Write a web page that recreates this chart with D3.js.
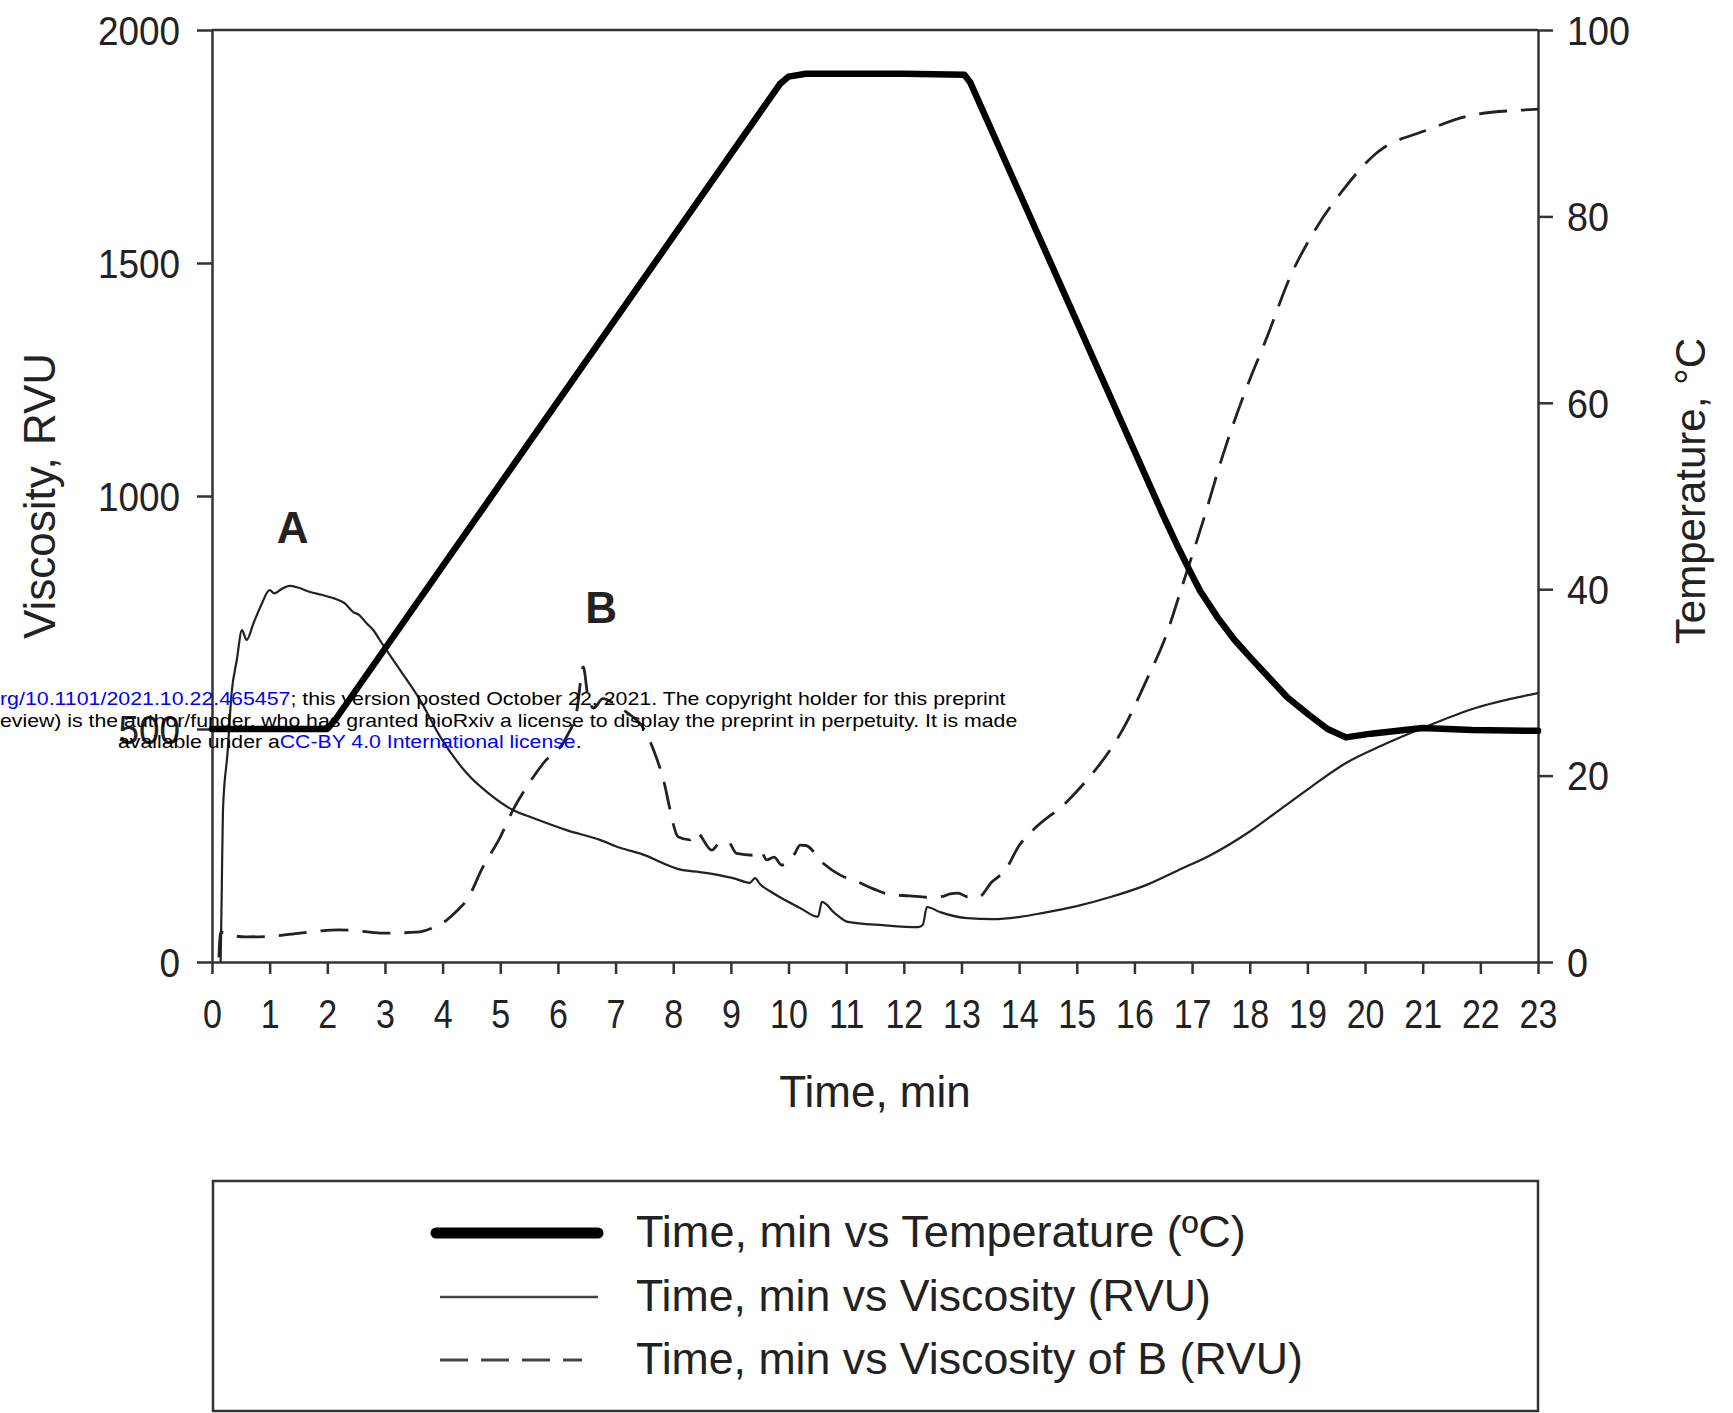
<!DOCTYPE html>
<html>
<head>
<meta charset="utf-8">
<script src="https://cdn.jsdelivr.net/npm/d3@7"></script>
<style>
  body { margin: 0; background: #fff; }
  svg { display: block; font-family: "Liberation Sans", Arial, sans-serif; }
</style>
</head>
<body>
<div id="chart"></div>
<script>
// tick labels
var timeTicks = [0, 1, 2, 3, 4, 5, 6, 7, 8, 9, 10, 11, 12, 13, 14, 15, 16, 17, 18, 19, 20, 21, 22, 23];
var viscTicks = [0, 500, 1000, 1500, 2000];
var tempTicks = [0, 20, 40, 60, 80, 100];

// Time, min vs Temperature (ºC)
var tempTime  = [0, 2.0, 2.15, 9.85, 10.0, 10.3, 12.0, 13.05, 13.15, 16.5, 16.75, 16.95, 17.14, 17.45, 17.73, 18.02, 18.32, 18.65, 19.03, 19.35, 19.67, 20.1, 21.0, 21.86, 23.0];
var tempValue = [25, 25, 26.1, 94.2, 95, 95.3, 95.3, 95.2, 94.4, 47.9, 44.6, 42.1, 39.8, 36.9, 34.6, 32.6, 30.6, 28.4, 26.5, 25.0, 24.1, 24.5, 25.1, 24.9, 24.8];

// Time, min vs Viscosity (RVU)
var viscTime  = [0.15, 0.17, 0.19, 0.27, 0.34, 0.43, 0.52, 0.60, 0.72, 0.85,
                 1.00, 1.08, 1.20, 1.35, 1.50, 1.70, 1.90, 2.10, 2.30, 2.45,
                 2.55, 2.68, 2.80, 2.91, 3.26, 3.61, 3.96, 4.42, 4.88, 5.22,
                 5.57, 6.15, 6.73, 7.08, 7.42, 8.17, 8.46, 9.04, 9.33, 9.42,
                 9.50, 9.73, 10.20, 10.51, 10.58, 10.80, 11.03, 11.64, 12.25, 12.33,
                 12.40, 12.63, 13.10, 13.55, 14.02, 14.40, 15.00, 15.60, 16.20, 16.76,
                 17.30, 18.00, 18.50, 19.00, 19.67, 20.30, 21.00, 21.86, 23.00];
var viscValue = [0, 160, 326, 450, 577, 648, 712, 691, 727, 765,
                 798, 791, 800, 807, 803, 794, 788, 781, 770, 751,
                 745, 727, 712, 691, 627, 562, 483, 405, 354, 326,
                 309, 283, 262, 245, 233, 197, 193, 180, 170, 180,
                 168, 148, 116, 97, 129, 105, 86, 79, 75, 80,
                 118, 107, 94, 92, 97, 105, 120, 140, 165, 197,
                 228, 280, 325, 370, 427, 465, 502, 543, 577];

// Time, min vs Viscosity of B (RVU)
var viscBTime  = [0.12, 0.15, 0.30, 0.60, 1.00, 1.53, 2.20, 2.60, 2.97, 3.55,
                  3.80, 4.07, 4.25, 4.42, 4.70, 5.00, 5.22, 5.46, 5.75, 6.15,
                  6.33, 6.44, 6.52, 6.62, 6.78, 6.96, 7.20, 7.47, 7.68, 7.86,
                  7.92, 8.09, 8.29, 8.40, 8.67, 8.80, 8.95, 9.10, 9.42, 9.52,
                  9.62, 9.75, 9.88, 10.11, 10.20, 10.30, 10.60, 10.89, 11.20, 11.47,
                  11.79, 12.10, 12.40, 12.68, 12.80, 12.94, 13.10, 13.29, 13.53, 13.76,
                  14.00, 14.24, 14.82, 15.13, 15.36, 15.82, 16.21, 16.52, 16.85, 17.20,
                  17.54, 17.95, 18.30, 18.70, 19.10, 19.62, 20.20, 21.07, 21.88, 22.70,
                  23.00];
var viscBValue = [10, 64, 58, 54, 55, 62, 69, 66, 62, 64,
                  72, 90, 110, 133, 204, 268, 326, 376, 427, 483,
                  541, 633, 570, 545, 565, 556, 535, 504, 448, 376,
                  341, 268, 262, 279, 240, 255, 258, 233, 229, 238,
                  219, 225, 208, 233, 251, 250, 212, 187, 172, 157,
                  144, 142, 139, 141, 146, 148, 140, 139, 172, 197,
                  250, 283, 343, 384, 418, 504, 605, 691, 815, 950,
                  1090, 1234, 1341, 1470, 1564, 1657, 1736, 1785, 1818, 1828,
                  1830];

// peak markers (time, RVU)
var markLabels = ["A", "B"];
var markTime = [1.4, 6.75];
var markVisc = [899, 727];

var legendLabels = ["Time, min vs Temperature (\u00baC)", "Time, min vs Viscosity (RVU)", "Time, min vs Viscosity of B (RVU)"];

var w = 1733, h = 1413;
var marginLeft = 212, marginTop = 30, plotW = 1326, plotH = 932;
var axisColor = "#333", textColor = "#222";

var svg = d3.select("#chart").append("svg")
  .attr("width", w)
  .attr("height", h);

svg.append("rect").attr("width", w).attr("height", h).attr("fill", "#fff");

var chartG = svg.append("g")
  .attr("transform", "translate(" + marginLeft + "," + marginTop + ")");

var xScale = d3.scaleLinear().domain([0, 23]).range([0, plotW]);
var yVisc = d3.scaleLinear().domain([0, 2000]).range([plotH, 0]);
var yTemp = d3.scaleLinear().domain([0, 100]).range([plotH, 0]);

// frame top
chartG.append("line")
  .attr("x1", 0).attr("x2", plotW).attr("y1", 0).attr("y2", 0)
  .style("stroke", axisColor).style("stroke-width", 2.5);

var xAxis = chartG.append("g")
  .attr("transform", "translate(0," + plotH + ")")
  .call(d3.axisBottom(xScale).tickValues(timeTicks).tickSize(12).tickSizeOuter(0).tickFormat(d3.format("d")));
xAxis.selectAll("text")
  .attr("y", 66).attr("dy", null)
  .attr("transform", "scale(0.83,1)")
  .style("font-size", "41px").style("fill", textColor);

var leftAxis = chartG.append("g")
  .call(d3.axisLeft(yVisc).tickValues(viscTicks).tickSize(15).tickSizeOuter(0).tickFormat(d3.format("d")));
leftAxis.selectAll("text")
  .attr("x", -32 / 0.9).attr("dy", "0.35em")
  .attr("transform", "scale(0.9,1)")
  .style("font-size", "41px").style("fill", textColor);

var rightAxis = chartG.append("g")
  .attr("transform", "translate(" + plotW + ",0)")
  .call(d3.axisRight(yTemp).tickValues(tempTicks).tickSize(15).tickSizeOuter(0).tickFormat(d3.format("d")));
rightAxis.selectAll("text")
  .attr("x", 29 / 0.92).attr("dy", "0.35em")
  .attr("transform", "scale(0.92,1)")
  .style("font-size", "41px").style("fill", textColor);

[xAxis, leftAxis, rightAxis].forEach(function(a) {
  a.selectAll("line").style("stroke", axisColor).style("stroke-width", 2.5);
  a.selectAll("path").style("stroke", axisColor).style("stroke-width", 2.5);
  a.selectAll("text").style("font-family", "'Liberation Sans', Arial, sans-serif");
});

// series
var viscLine = d3.line()
  .x(function(d) { return xScale(d[0]); })
  .y(function(d) { return yVisc(d[1]); })
  .curve(d3.curveMonotoneX);
var tempLine = d3.line()
  .x(function(d) { return xScale(d[0]); })
  .y(function(d) { return yTemp(d[1]); });

chartG.append("path")
  .datum(d3.zip(viscTime, viscValue))
  .attr("d", viscLine)
  .style("fill", "none").style("stroke", "#222").style("stroke-width", 2.2)
  .style("stroke-linejoin", "round");

chartG.append("path")
  .datum(d3.zip(viscBTime, viscBValue))
  .attr("d", viscLine)
  .style("fill", "none").style("stroke", "#222").style("stroke-width", 2.8)
  .style("stroke-dasharray", "28,14");

chartG.append("path")
  .datum(d3.zip(tempTime, tempValue))
  .attr("d", tempLine)
  .style("fill", "none").style("stroke", "#000").style("stroke-width", 6.5)
  .style("stroke-linejoin", "round").style("stroke-linecap", "round");

chartG.selectAll("text.mark")
  .data(d3.zip(markLabels, markTime, markVisc))
  .enter().append("text")
  .attr("class", "mark")
  .attr("x", function(d) { return xScale(d[1]); })
  .attr("y", function(d) { return yVisc(d[2]); })
  .attr("text-anchor", "middle")
  .style("font-size", "44px").style("font-weight", "bold").style("fill", textColor)
  .text(function(d) { return d[0]; });

// axis titles
svg.append("text")
  .attr("transform", "translate(40,496) rotate(-90)")
  .attr("text-anchor", "middle").attr("dy", "0.35em")
  .style("font-size", "44px").style("fill", textColor)
  .text("Viscosity, RVU");

svg.append("text")
  .attr("transform", "translate(1690,491) rotate(-90)")
  .attr("text-anchor", "middle").attr("dy", "0.35em")
  .style("font-size", "42px").style("fill", textColor)
  .text("Temperature, \u00b0C");

svg.append("text")
  .attr("x", marginLeft + plotW / 2).attr("y", 1107)
  .attr("text-anchor", "middle")
  .style("font-size", "44px").style("fill", textColor)
  .text("Time, min");

// legend
var legendG = svg.append("g");
legendG.append("rect")
  .attr("x", 213).attr("y", 1181).attr("width", 1325).attr("height", 230)
  .style("fill", "#fff").style("stroke", axisColor).style("stroke-width", 2.5);

var legendStyles = [
  { width: 11, color: "#000", dash: null, x1: 436, x2: 598 },
  { width: 2.5, color: "#444", dash: null, x1: 440, x2: 598 },
  { width: 3, color: "#444", dash: "28,13", x1: 440, x2: 582 }
];
var legendY = [1233, 1297, 1360];
var legendWidths = [610, 575, 667];

legendLabels.forEach(function(label, i) {
  var s = legendStyles[i];
  legendG.append("line")
    .attr("x1", s.x1).attr("x2", s.x2).attr("y1", legendY[i]).attr("y2", legendY[i])
    .style("stroke", s.color).style("stroke-width", s.width)
    .style("stroke-linecap", i == 0 ? "round" : "butt")
    .style("stroke-dasharray", s.dash);
  var t = legendG.append("text")
    .attr("x", 0).attr("y", legendY[i] + 14)
    .style("font-size", "44px").style("fill", textColor)
    .text(label);
  var len = t.node().getComputedTextLength();
  t.attr("transform", "translate(636,0) scale(" + (legendWidths[i] / len) + ",1)");
});

// bioRxiv overlay text
var stampG = svg.append("g").style("font-size", "19px");
var stampLines = [
  { y: 705, x0: 0, width: 1006, parts: [["rg/10.1101/2021.10.22.465457", "#0000ff"], ["; this version posted October 22, 2021. The copyright holder for this preprint", "#000"]] },
  { y: 727, x0: 0, width: 1018, parts: [["eview) is the author/funder, who has granted bioRxiv a license to display the preprint in perpetuity. It is made", "#000"]] },
  { y: 748, x0: 118, width: 464, parts: [["available under a", "#000"], ["CC-BY 4.0 International license", "#0000ff"], [".", "#000"]] }
];
stampLines.forEach(function(line) {
  var t = stampG.append("text").attr("x", 0).attr("y", line.y);
  line.parts.forEach(function(p) {
    t.append("tspan").style("fill", p[1]).text(p[0]);
  });
  var len = t.node().getComputedTextLength();
  t.attr("transform", "translate(" + line.x0 + ",0) scale(" + (line.width / len) + ",1)");
});
</script>
</body>
</html>
